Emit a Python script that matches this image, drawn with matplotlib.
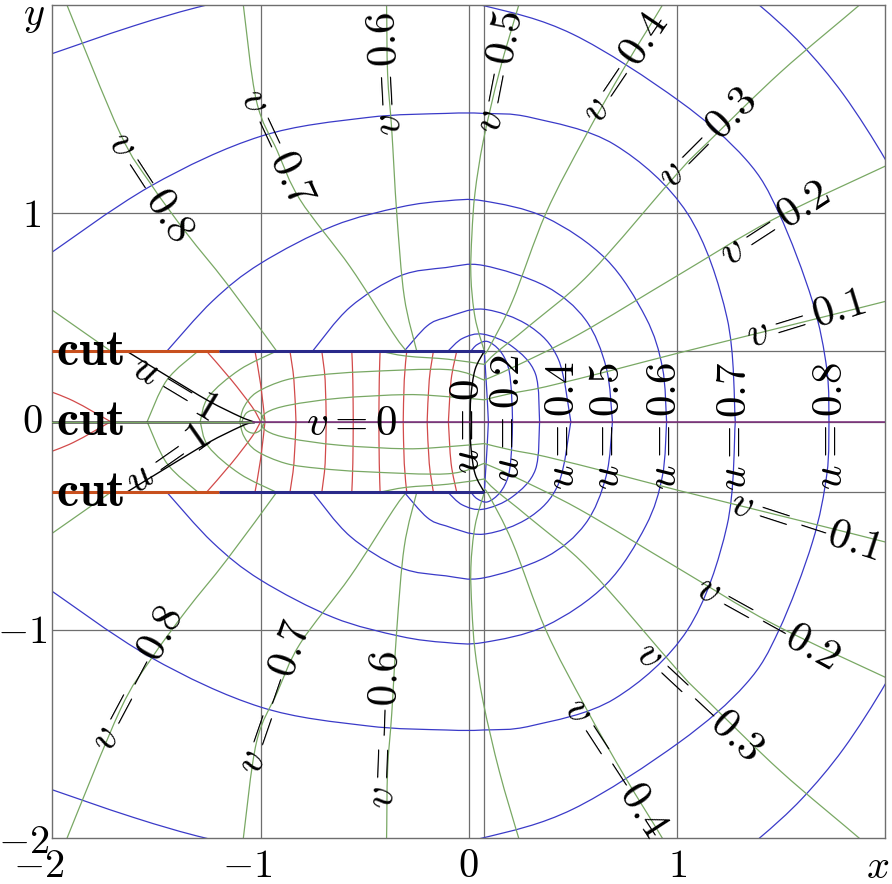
import numpy as np
import matplotlib
matplotlib.use("Agg")
import matplotlib.pyplot as plt
from matplotlib.path import Path
from matplotlib.patches import PathPatch

plt.rcParams['mathtext.fontset'] = 'cm'
plt.rcParams['font.family'] = ['DejaVu Serif']

# ---------------- data ----------------
corner_x, corner_y = 0.0745, 0.339      # end of the two outer cuts
branch_q = -1.035                        # end of the centre cut

grid_x = [-1.0, 0.0, corner_x, 1.0]
grid_y = [-1.0, -corner_y, 0.0, corner_y, 1.0]

# blue u-curves outside the strip (upper half, mirrored below)
u_outer = {
    0.1: [(0.094, 0), (0.088, 0.12), (0.080, 0.25), (0.0745, 0.339)],
    0.2: [(0.21, 0), (0.205, 0.14), (0.19, 0.26), (0.15, 0.34), (0.09, 0.385), (0.04, 0.37), (0.01, 0.339)],
    0.3: [(0.34, 0), (0.32, 0.23), (0.21, 0.36), (0.07, 0.42), (-0.03, 0.40), (-0.10, 0.339)],
    0.4: [(0.49, 0), (0.43, 0.30), (0.29, 0.46), (0.07, 0.54), (-0.11, 0.50), (-0.20, 0.46), (-0.31, 0.339)],
    0.5: [(0.69, 0), (0.66, 0.26), (0.56, 0.49), (0.37, 0.65), (0.07, 0.75), (-0.11, 0.74), (-0.33, 0.70),
          (-0.57, 0.55), (-0.75, 0.339)],
    0.6: [(0.95, 0), (0.93, 0.26), (0.85, 0.50), (0.66, 0.78), (0.37, 0.98), (0.07, 1.06), (-0.11, 1.06),
          (-0.33, 1.03), (-0.65, 0.94), (-1.0, 0.76), (-1.23, 0.58), (-1.45, 0.339)],
    0.7: [(1.28, 0), (1.24, 0.5), (1.05, 1.0), (0.7, 1.33), (0.3, 1.46), (0.07, 1.48), (-0.11, 1.48),
          (-0.49, 1.46), (-1.0, 1.37), (-1.53, 1.13), (-2.05, 0.78)],
    0.8: [(1.73, 0), (1.72, 0.25), (1.65, 0.58), (1.49, 1.0), (1.33, 1.26), (1.01, 1.54), (0.5, 1.86),
          (0.06, 2.0), (-0.4, 2.08), (-0.9, 2.07), (-1.26, 2.0), (-1.61, 1.90), (-2.05, 1.75)],
    0.9: [(2.1, 1.05), (2.0, 1.26), (1.8, 1.57), (1.6, 1.81), (1.395, 2.0), (1.2, 2.15)],
}

# green v-curves outside the strip (upper half; lower half carries -v)
v_outer = {
    0.1: [(0.0745, 0.105), (0.20, 0.135), (0.37, 0.168), (0.7, 0.25), (1.0, 0.328), (1.62, 0.482), (2.05, 0.59)],
    0.2: [(0.0745, 0.20), (0.21, 0.26), (0.53, 0.42), (1.0, 0.70), (1.46, 0.97), (2.05, 1.25)],
    0.3: [(0.0745, 0.275), (0.13, 0.33), (0.29, 0.46), (0.58, 0.71), (1.0, 1.19), (1.147, 1.34),
          (1.5, 1.68), (1.876, 2.0), (1.95, 2.07)],
    0.4: [(0.0745, 0.323), (0.10, 0.36), (0.21, 0.58), (0.37, 1.0), (0.56, 1.37), (0.747, 1.70),
          (0.93, 2.0), (0.97, 2.08)],
    0.5: [(0.0745, 0.339), (0.03, 0.5), (0.01, 0.7), (0.015, 0.9), (0.03, 1.1), (0.07, 1.35),
          (0.147, 1.68), (0.24, 2.0), (0.26, 2.06)],
    0.6: [(-0.25, 0.339), (-0.31, 0.6), (-0.346, 1.0), (-0.37, 1.4), (-0.39, 1.67), (-0.395, 2.0), (-0.40, 2.06)],
    0.7: [(-0.30, 0.339), (-0.363, 0.424), (-0.57, 0.744), (-0.81, 1.065), (-0.92, 1.30), (-1.02, 1.54),
          (-1.083, 2.0), (-1.09, 2.06)],
    0.8: [(-0.923, 0.339), (-1.163, 0.664), (-1.355, 0.904), (-1.53, 1.145), (-1.675, 1.385), (-1.93, 2.0),
          (-1.95, 2.06)],
    0.9: [(-1.72, 0.339), (-2.05, 0.57)],
}

# red u-curves inside the strip (upper half)
u_inner = {
    0.1: [(-0.058, 0.339), (-0.085, 0.2), (-0.098, 0)],
    0.2: [(-0.170, 0.339), (-0.19, 0.2), (-0.20, 0)],
    0.3: [(-0.298, 0.339), (-0.31, 0.2), (-0.315, 0)],
    0.4: [(-0.426, 0.339), (-0.43, 0.2), (-0.432, 0)],
    0.5: [(-0.562, 0.339), (-0.557, 0.2), (-0.555, 0)],
    0.6: [(-0.706, 0.339), (-0.69, 0.2), (-0.685, 0)],
    0.7: [(-0.859, 0.339), (-0.84, 0.2), (-0.83, 0)],
    0.8: [(-1.027, 0.339), (-1.0, 0.18), (-0.979, 0)],
    0.9: [(-1.26, 0.339), (-1.14, 0.2), (-1.04, 0.07), (-1.0, 0.0)],
    1.1: [(-2.05, 0.16), (-1.9, 0.1), (-1.72, 0.0)],
}

# green curves inside the strip (upper half)
v_inner = [
    [(0.0745, 0.105), (-0.1, 0.12), (-0.3, 0.13), (-0.62, 0.113), (-0.86, 0.08), (-0.97, 0.045), (-1.0, 0.0)],
    [(0.0745, 0.20), (-0.1, 0.25), (-0.5, 0.24), (-0.72, 0.224), (-0.88, 0.2), (-1.02, 0.14), (-1.08, 0.07),
     (-1.10, 0.0)],
    [(0.0745, 0.275), (-0.1, 0.30), (-0.3, 0.315), (-0.43, 0.339)],
    [(-0.98, 0.0), (-1.0, 0.04), (-1.035, 0.055), (-1.07, 0.04), (-1.09, 0.0)],
    [(-0.923, 0.339), (-1.1, 0.25), (-1.25, 0.12), (-1.29, 0.0)],
    [(-1.30, 0.339), (-1.45, 0.2), (-1.545, 0.0)],
]

u0_curve = [(0.0745, 0.339), (0.03, 0.25), (0.01, 0.12), (0.006, 0)]
u1_curve = [(-1.644, 0.339), (-1.45, 0.22), (-1.25, 0.1), (-1.10, 0.025), (branch_q, 0)]

plate_orange_x = [-2.0, -1.2]
plate_blue_x = [-1.2, corner_x]

labels = [
    ("v=0.8", -1.53, 1.13, -57), ("v=0.7", -0.92, 1.32, -65), ("v=0.6", -0.40, 1.67, 93),
    ("v=0.5", 0.147, 1.68, 79), ("v=0.4", 0.747, 1.70, 56), ("v=0.3", 1.147, 1.36, 45),
    ("v=0.2", 1.467, 0.952, 33), ("v=0.1", 1.62, 0.496, 17),
    ("v=-0.1", 1.62, -0.497, -18), ("v=-0.2", 1.436, -0.962, -29), ("v=-0.3", 1.107, -1.337, -43),
    ("v=-0.4", 0.707, -1.658, -57), ("v=-0.6", -0.41, -1.48, 88), ("v=-0.7", -0.939, -1.322, 71),
    ("v=-0.8", -1.595, -1.234, 62), ("v=0", -0.564, -0.008, 0),
    ("u=0", -0.009, -0.024, 90), ("u=0.2", 0.182, 0.018, 90), ("u=0.4", 0.45, -0.02, 90),
    ("u=0.5", 0.664, -0.02, 90), ("u=0.6", 0.937, -0.02, 90), ("u=0.7", 1.274, -0.02, 90),
    ("u=0.8", 1.734, -0.02, 90), ("u=1", -1.411, 0.168, -31), ("u=1", -1.451, -0.176, 35),
]
cut_labels = [(-1.985, corner_y), (-1.985, 0.0), (-1.985, -corner_y)]

xtick_labels = [("-2", -2.064), ("-1", -1.065), ("0", 0.0), ("1", 1.0)]
ytick_labels = [("-2", -2.14, -2.018), ("-1", -2.145, -1.014), ("0", -2.098, -0.006), ("1", -2.098, 0.986)]

# ---------------- drawing ----------------
BLUE = "#3a3ac8"
GREEN = "#79a864"
RED = "#d24a4a"
GRID = "#6e6e6e"


def smooth_path(pts):
    P = np.asarray(pts, dtype=float)
    n = len(P)
    verts = [P[0]]
    codes = [Path.MOVETO]
    for i in range(n - 1):
        p0 = P[i - 1] if i > 0 else P[i]
        p1, p2 = P[i], P[i + 1]
        p3 = P[i + 2] if i + 2 < n else P[i + 1]
        verts += [p1 + (p2 - p0) / 6.0, p2 - (p3 - p1) / 6.0, p2]
        codes += [Path.CURVE4] * 3
    return Path(verts, codes)


def draw(ax, pts, color, lw, mirror=True, z=2):
    ax.add_patch(PathPatch(smooth_path(pts), fill=False, ec=color, lw=lw, zorder=z, capstyle='round'))
    if mirror:
        m = [(x, -y) for x, y in pts]
        ax.add_patch(PathPatch(smooth_path(m), fill=False, ec=color, lw=lw, zorder=z, capstyle='round'))


fig = plt.figure(figsize=(8.92, 8.84), dpi=100)
ax = fig.add_axes([52.4 / 892, 1 - 838.3 / 884, 832.8 / 892, 833.2 / 884])
ax.set_xlim(-2, 2)
ax.set_ylim(-2, 2)
ax.set_xticks([])
ax.set_yticks([])
for s in ax.spines.values():
    s.set_color(GRID)
    s.set_linewidth(1.0)

for gx in grid_x:
    ax.axvline(gx, color=GRID, lw=0.9, zorder=1)
for gy in grid_y:
    ax.axhline(gy, color=GRID, lw=0.9, zorder=1)

for val, pts in u_outer.items():
    draw(ax, pts, BLUE, 0.9)
for val, pts in v_outer.items():
    draw(ax, pts, GREEN, 0.9)
for val, pts in u_inner.items():
    draw(ax, pts, RED, 0.9)
for pts in v_inner:
    draw(ax, pts, GREEN, 0.9)
draw(ax, u0_curve, "black", 1.0, z=3)
draw(ax, u1_curve, "black", 1.0, z=3)

# cuts
for sgn in (1, -1):
    ax.plot(plate_orange_x, [sgn * corner_y] * 2, color="#c8501e", lw=2.2, zorder=4, solid_capstyle='butt')
    ax.plot(plate_blue_x, [sgn * corner_y] * 2, color="#2a2a8a", lw=2.2, zorder=4, solid_capstyle='butt')
ax.plot([-2, branch_q], [0, 0], color="#4a4a4a", lw=1.8, zorder=4)
ax.plot([-2, branch_q], [0, 0], color=GREEN, lw=0.8, zorder=4)
ax.plot([branch_q, 2], [0, 0], color="#7a2a7a", lw=1.1, zorder=4)

FS = 31
for txt, x, y, rot in labels:
    ax.text(x, y, "$" + txt + "$", fontsize=FS, rotation=rot, ha="center", va="center",
            rotation_mode="anchor", zorder=6)
for x, y in cut_labels:
    ax.text(x, y, r"$\mathbf{cut}$", fontsize=36, ha="left", va="center", zorder=6)

TFS = 29
for t, x in xtick_labels:
    ax.text(x, -2.133, "$" + t + "$", fontsize=TFS, ha="center", va="center", clip_on=False)
ax.text(1.965, -2.14, "$x$", fontsize=TFS, ha="center", va="center", clip_on=False)
for t, x, y in ytick_labels:
    ax.text(x, y, "$" + t + "$", fontsize=TFS, ha="center", va="center", clip_on=False)
ax.text(-2.09, 1.943, "$y$", fontsize=TFS, ha="center", va="center", clip_on=False)

fig.savefig("out.png", dpi=100)
